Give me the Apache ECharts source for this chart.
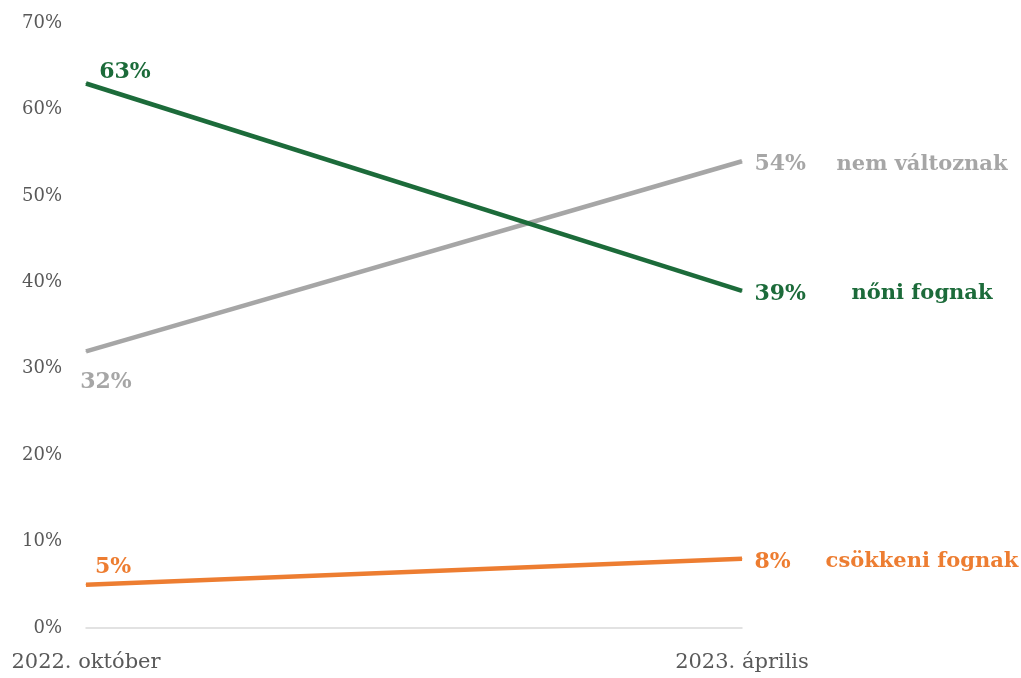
<!DOCTYPE html>
<html>
<head>
<meta charset="utf-8">
<script src="https://cdn.jsdelivr.net/npm/echarts@6/dist/echarts.min.js"></script>
<style>
  html, body { margin: 0; padding: 0; background: #fff; }
  #chart { width: 1021px; height: 678px; }
</style>
</head>
<body>
<div id="chart"></div>
<script>
// Periods on the horizontal axis
const periods = ['2022. október', '2023. április'];

// Share of respondents (%) per expectation
const seriesNames = ['nem változnak', 'nőni fognak', 'csökkeni fognak'];
const stayValues = [32, 54];
const growValues = [63, 39];
const shrinkValues = [5, 8];

const yTicks = [0, 10, 20, 30, 40, 50, 60, 70];

const colors = ['#a6a6a6', '#1c6b3a', '#ed7d31'];
const FONT = 'DejaVu Serif';

// Offsets of the start-point value labels (centre of label relative to the point)
const startOffsets = [[20, 31], [39, -11], [27, -18]];

function buildData(values, idx) {
  return values.map((v, i) => {
    if (i === 0) {
      return {
        value: v,
        label: {
          show: true,
          position: 'inside',
          offset: startOffsets[idx],
          formatter: v + '%',
          color: colors[idx],
          fontFamily: FONT,
          fontWeight: 'bold',
          fontSize: 22
        }
      };
    }
    return {
      value: v,
      label: {
        show: true,
        position: 'right',
        distance: 12,
        offset: [0, 3],
        formatter: '{v|' + v + '%}{n|' + seriesNames[idx] + '}',
        rich: {
          v: { width: 80, align: 'left', color: colors[idx], fontFamily: FONT, fontWeight: 'bold', fontSize: 22 },
          n: { width: 175, align: 'center', color: colors[idx], fontFamily: FONT, fontWeight: 'bold', fontSize: 21 }
        }
      }
    };
  });
}

const allValues = [stayValues, growValues, shrinkValues];

const chart = echarts.init(document.getElementById('chart'), null, { renderer: 'canvas' });
chart.setOption({
  animation: false,
  backgroundColor: '#ffffff',
  grid: { left: 86, right: 279, top: 23, bottom: 50, containLabel: false },
  xAxis: {
    type: 'category',
    data: periods,
    boundaryGap: false,
    axisLine: { show: true, lineStyle: { color: '#d9d9d9', width: 1.5 } },
    axisTick: { show: false },
    axisLabel: { color: '#595959', fontFamily: FONT, fontSize: 21, margin: 24, interval: 0 }
  },
  yAxis: {
    type: 'value',
    min: yTicks[0],
    max: yTicks[yTicks.length - 1],
    interval: 10,
    axisLine: { show: false },
    axisTick: { show: false },
    splitLine: { show: false },
    axisLabel: { color: '#595959', fontFamily: FONT, fontSize: 18, margin: 24, formatter: '{value}%' }
  },
  series: allValues.map((vals, idx) => ({
    name: seriesNames[idx],
    type: 'line',
    data: buildData(vals, idx),
    symbol: 'circle',
    symbolSize: 1,
    showSymbol: true,
    silent: true,
    lineStyle: { color: colors[idx], width: 4.5 },
    itemStyle: { color: colors[idx] },
    z: idx === 1 ? 3 : 2
  }))
});
</script>
</body>
</html>
